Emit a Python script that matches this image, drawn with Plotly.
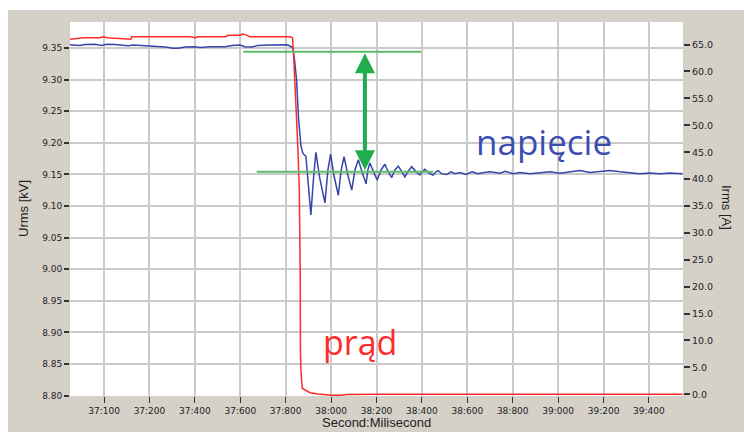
import plotly.graph_objects as go

# ---------------- data (time in ms) ----------------
volt_t = [36850, 36872, 36894, 36916, 36960, 36987, 37013, 37048, 37070, 37106,
          37128, 37159, 37203, 37225, 37269, 37304, 37326, 37357, 37401, 37423,
          37467, 37533, 37564, 37599, 37621, 37652, 37678, 37731, 37775, 37806,
          37819, 37832, 37839, 37848, 37857, 37863, 37867, 37874, 37881, 37889,
          37900, 37911, 37922, 37933, 37950, 37973, 37986, 37998, 38012, 38032,
          38043, 38057, 38074, 38091, 38105, 38120, 38136, 38154, 38162, 38171,
          38187, 38203, 38220, 38237, 38250, 38267, 38281, 38296, 38310, 38325,
          38339, 38355, 38374, 38391, 38402, 38413, 38431, 38449, 38462, 38471,
          38488, 38510, 38528, 38546, 38568, 38594, 38621, 38647, 38674, 38700,
          38744, 38766, 38801, 38832, 38876, 38920, 38964, 39008, 39052, 39096,
          39140, 39184, 39228, 39272, 39316, 39360, 39404, 39448, 39492, 39549]
volt_kv = [9.355, 9.355, 9.354, 9.3555, 9.3557, 9.354, 9.3557, 9.3555, 9.355, 9.3535,
           9.3545, 9.354, 9.3525, 9.352, 9.3515, 9.3495, 9.3495, 9.3515, 9.352, 9.3505,
           9.352, 9.352, 9.354, 9.3545, 9.352, 9.3515, 9.354, 9.3545, 9.3545, 9.355,
           9.353, 9.350, 9.331, 9.299, 9.236, 9.212, 9.196, 9.185, 9.181, 9.179,
           9.133, 9.086, 9.141, 9.185, 9.144, 9.105, 9.157, 9.182, 9.149, 9.117,
           9.154, 9.178, 9.149, 9.125, 9.157, 9.173, 9.154, 9.135, 9.157, 9.168,
           9.154, 9.141, 9.157, 9.166, 9.155, 9.145, 9.157, 9.163, 9.155, 9.146,
           9.155, 9.162, 9.154, 9.149, 9.154, 9.158, 9.152, 9.149, 9.154, 9.156,
           9.151, 9.150, 9.154, 9.151, 9.153, 9.150, 9.154, 9.151, 9.153, 9.154,
           9.152, 9.155, 9.151, 9.153, 9.151, 9.153, 9.154, 9.152, 9.154, 9.156,
           9.153, 9.155, 9.156, 9.154, 9.152, 9.151, 9.152, 9.151, 9.152, 9.151]

curr_t = [36850, 36872, 36908, 36982, 36996, 37013, 37070, 37106, 37118, 37122,
          37128, 37379, 37401, 37414, 37537, 37546, 37599, 37611, 37621, 37634,
          37643, 37819, 37830, 37836, 37845, 37854, 37860, 37863, 37864, 37865,
          37867, 37873, 37889, 37907, 37942, 38003, 38039, 38068, 38200, 39549]
curr_a = [65.98, 66.10, 66.29, 66.29, 66.47, 66.29, 66.17, 66.04, 65.98, 66.47,
          66.47, 66.47, 66.29, 66.47, 66.47, 66.73, 66.73, 66.97, 66.85, 66.60,
          66.47, 66.47, 66.29, 62.1, 54.7, 45.4, 38.0, 30.5, 22.5, 8.24,
          4.5, 1.12, 0.8, 0.3, 0.06, -0.19, -0.19, -0.04, 0.0, 0.0]

x_tickvals = [37000, 37200, 37400, 37600, 37800, 38000, 38200, 38400, 38600,
              38800, 39000, 39200, 39400]
x_ticktext = ["37:100", "37:200", "37:400", "37:600", "37:800", "38:000", "38:200",
              "38:400", "38:600", "38:800", "39:000", "39:200", "39:400"]
left_tickvals = [8.80, 8.85, 8.90, 8.95, 9.00, 9.05, 9.10, 9.15, 9.20, 9.25, 9.30, 9.35]
left_ticktext = ["8.80", "8.85", "8.90", "8.95", "9.00", "9.05", "9.10", "9.15",
                 "9.20", "9.25", "9.30", "9.35"]
right_tickvals = [0, 5, 10, 15, 20, 25, 30, 35, 40, 45, 50, 55, 60, 65]
right_ticktext = ["0.0", "5.0", "10.0", "15.0", "20.0", "25.0", "30.0", "35.0",
                  "40.0", "45.0", "50.0", "55.0", "60.0", "65.0"]

# annotation levels
level_before = 9.344
level_after = 9.154
line_before_x = [37613, 38396]
line_after_x = [37672, 38450]
arrow_x = 38149
arrow_top = 9.3415
arrow_bottom = 9.1543

GRAY = "#d5d1c9"
BLUE = "#3546a8"
RED = "#ff2a2a"
GREEN_LINE = "#5dbb6a"
GREEN_ARROW = "#1fae4b"

fig = go.Figure()
fig.add_trace(go.Scatter(x=curr_t, y=curr_a, mode="lines", yaxis="y2",
                         line=dict(color=RED, width=1.5), showlegend=False))
fig.add_trace(go.Scatter(x=volt_t, y=volt_kv, mode="lines",
                         line=dict(color=BLUE, width=1.5), showlegend=False))

tickfont = dict(family="DejaVu Sans", size=9, color="#222222")

fig.update_layout(
    width=744, height=432,
    margin=dict(l=70, r=61, t=22, b=36),
    paper_bgcolor=GRAY, plot_bgcolor="white",
    showlegend=False,
    xaxis=dict(range=[36850, 39550], tickvals=x_tickvals, ticktext=x_ticktext,
               showgrid=True, gridcolor="#cacaca", gridwidth=1.8,
               ticks="outside", ticklen=6, tickcolor="#333333", tickwidth=1,
               tickfont=tickfont, zeroline=False, showline=False),
    yaxis=dict(range=[8.7995, 9.391], tickvals=left_tickvals, ticktext=left_ticktext,
               showgrid=True, gridcolor="#cacaca", gridwidth=1.8,
               ticks="outside", ticklen=5, tickcolor="#333333", tickwidth=1.5,
               tickfont=tickfont, zeroline=False, showline=False),
    yaxis2=dict(range=[-0.32, 69.2], overlaying="y", side="right",
                tickvals=right_tickvals, ticktext=right_ticktext,
                showgrid=False, ticks="outside", ticklen=6, tickcolor="#333333",
                tickwidth=1.5, tickfont=dict(family="DejaVu Sans", size=9.5, color="#222222"),
                zeroline=False, showline=False),
)

# white strips around the gray panel
fig.add_shape(type="rect", xref="paper", yref="paper",
              x0=-0.2, x1=1.2, y0=(396 - 10) / 374, y1=1.2,
              fillcolor="white", line_width=0, layer="below")
fig.add_shape(type="rect", xref="paper", yref="paper",
              x0=-0.2, x1=(8 - 70) / 613, y0=-0.2, y1=1.2,
              fillcolor="white", line_width=0, layer="below")

# green reference lines
fig.add_shape(type="line", xref="x", yref="y", x0=line_before_x[0], x1=line_before_x[1],
              y0=level_before, y1=level_before, line=dict(color=GREEN_LINE, width=2))
fig.add_shape(type="line", xref="x", yref="y", x0=line_after_x[0], x1=line_after_x[1],
              y0=level_after, y1=level_after, line=dict(color=GREEN_LINE, width=2))

# double arrow
fig.add_annotation(x=arrow_x, y=arrow_top, ax=arrow_x, ay=arrow_bottom,
                   xref="x", yref="y", axref="x", ayref="y", text="",
                   showarrow=True, arrowhead=2, arrowside="end+start",
                   arrowsize=1, arrowwidth=4, arrowcolor=GREEN_ARROW)

# text labels
fig.add_annotation(x=38937, y=9.2028, xref="x", yref="y", text="napięcie",
                   showarrow=False, font=dict(family="Open Sans", size=35, color="#3b4db0"))
fig.add_annotation(x=38126, y=8.885, xref="x", yref="y", text="prąd",
                   showarrow=False, font=dict(family="Open Sans", size=34, color=RED))

# axis titles
fig.add_annotation(x=(23 - 70) / 613, y=(396 - 209) / 374, xref="paper", yref="paper",
                   xanchor="center", yanchor="middle",
                   text="Urms [kV]", textangle=-90, showarrow=False,
                   font=dict(family="Liberation Sans", size=13, color="#222222"))
fig.add_annotation(x=(727 - 70) / 613, y=(396 - 207) / 374, xref="paper", yref="paper",
                   xanchor="center", yanchor="middle",
                   text="Irms [A]", textangle=90, showarrow=False,
                   font=dict(family="Liberation Sans", size=13, color="#222222"))
fig.add_annotation(x=(376 - 70) / 613, y=(396 - 432) / 374, xref="paper", yref="paper",
                   xanchor="center", text="Second:Milisecond", showarrow=False, yanchor="bottom",
                   font=dict(family="Liberation Sans", size=13, color="#222222"))

fig.write_html("out.html")
